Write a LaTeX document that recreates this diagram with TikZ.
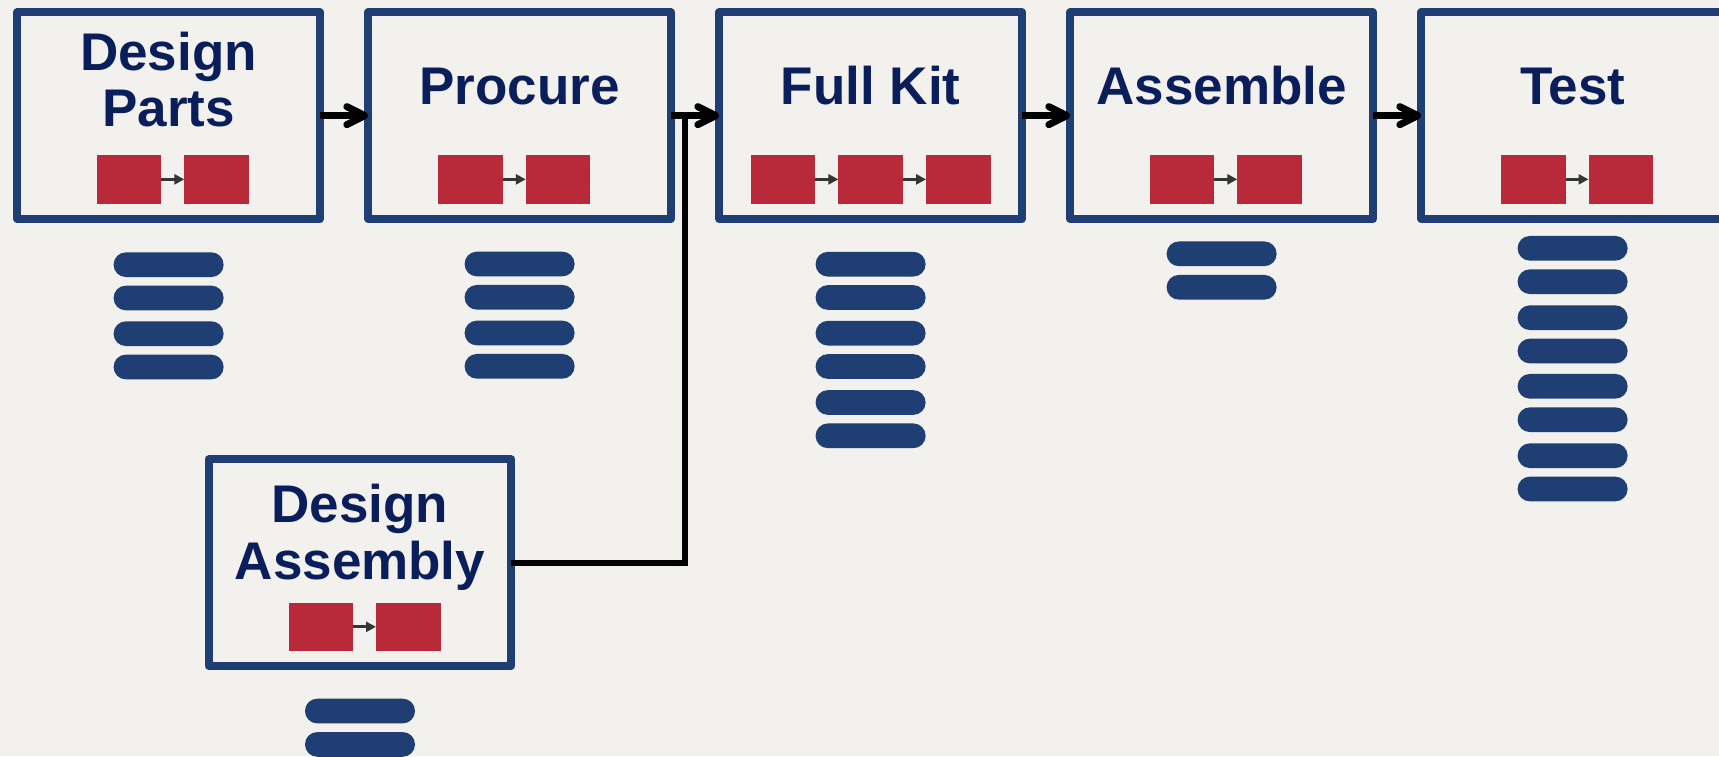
\documentclass[tikz,border=0pt]{standalone}
\usepackage{fontspec}
\setmainfont{Liberation Sans}
\usetikzlibrary{arrows.meta}
\definecolor{bg}{HTML}{F2F1ED}
\definecolor{frame}{HTML}{1F3E73}
\definecolor{ink}{HTML}{0A1E5C}
\definecolor{brick}{HTML}{B82A3A}
\definecolor{stub}{HTML}{353535}
\tikzset{
  stage/.style={draw=frame, line width=4pt, line join=round, minimum width=151.3pt,
    minimum height=103.35pt, inner sep=0pt, outer sep=0pt},
  lbl/.style={font=\bfseries\fontsize{26.5}{28.35}\selectfont, text=ink, inner sep=0pt, anchor=base},
  task/.style={fill=brick, minimum width=32.25pt, minimum height=24.35pt, inner sep=0pt, outer sep=0pt},
  link/.style={draw=stub, line width=1.5pt, -{Triangle[length=5pt,width=5pt]}},
  flow/.style={draw=black, line width=3.5pt, -{Straight Barb[length=9pt,width=9pt,round]}},
  feed/.style={draw=black, line width=3pt},
  bar/.style={fill=frame, minimum width=55pt, minimum height=12.35pt, rounded corners=6.1pt, inner sep=0pt}
}
\begin{document}
\begin{tikzpicture}[x=0.5pt,y=-0.5pt]
  \fill[bg] (0,0) rectangle (1719,756);
  \useasboundingbox (0,0) rectangle (1719,756);

  % stage frames
  \node[stage] (dp) at (168.6,115.65) {};
  \node[stage] (pr) at (519.6,115.65) {};
  \node[stage] (fk) at (870.6,115.65) {};
  \node[stage] (as) at (1221.6,115.65) {};
  \node[stage] (ts) at (1572.6,115.65) {};
  \node[stage] (da) at (360,562.65) {};

  % stage titles
  \node[lbl] (dpt1) at (168.6,70) {Design};
  \node[lbl] (dpt2) at (168.6,126.7) {Parts};
  \node[lbl] (prt) at (519.6,104) {Procure};
  \node[lbl] (fkt) at (870.6,104) {Full Kit};
  \node[lbl] (ast) at (1221.6,104) {Assemble};
  \node[lbl] (tst) at (1572.6,104) {Test};
  \node[lbl] (dat1) at (360,522.7) {Design};
  \node[lbl] (dat2) at (360,579.3) {Assembly};

  % task chains inside each stage
  \node[task] (dp1) at (129.05,179.35) {};
  \node[task] (dp2) at (216.55,179.35) {};
  \draw[link] (dp1.east) -- (dp2.west);
  \node[task] (pr1) at (470.55,179.35) {};
  \node[task] (pr2) at (558.05,179.35) {};
  \draw[link] (pr1.east) -- (pr2.west);
  \node[task] (fk1) at (782.9,179.35) {};
  \node[task] (fk2) at (870.6,179.35) {};
  \node[task] (fk3) at (958.3,179.35) {};
  \draw[link] (fk1.east) -- (fk2.west);
  \draw[link] (fk2.east) -- (fk3.west);
  \node[task] (as1) at (1182.05,179.35) {};
  \node[task] (as2) at (1269.55,179.35) {};
  \draw[link] (as1.east) -- (as2.west);
  \node[task] (ts1) at (1533.25,179.35) {};
  \node[task] (ts2) at (1620.75,179.35) {};
  \draw[link] (ts1.east) -- (ts2.west);
  \node[task] (da1) at (320.75,626.85) {};
  \node[task] (da2) at (408.25,626.85) {};
  \draw[link] (da1.east) -- (da2.west);

  % resource bars under each stage
  \foreach \y [count=\i] in {264.7,298,333.7,367}
    \node[bar] (dpbar\i) at (168.6,\y) {};
  \foreach \y [count=\i] in {264,297.3,333,366.3}
    \node[bar] (prbar\i) at (519.6,\y) {};
  \foreach \y [count=\i] in {264.2,297.5,333.2,366.5,402.5,435.8}
    \node[bar] (fkbar\i) at (870.6,\y) {};
  \foreach \y [count=\i] in {253.8,287.3}
    \node[bar] (asbar\i) at (1221.6,\y) {};
  \foreach \y [count=\i] in {248.3,281.7,317.7,351,386.3,419.7,455.7,489}
    \node[bar] (tsbar\i) at (1572.6,\y) {};
  \foreach \y [count=\i] in {711,744.4}
    \node[bar] (dabar\i) at (360,\y) {};

  % flow between stages
  \draw[flow] (dp.east) -- (pr.west);
  \draw[flow] (pr.east) -- (fk.west);
  \draw[flow] (fk.east) -- (as.west);
  \draw[flow] (as.east) -- (ts.west);

  % design assembly feeds into the full kit
  \coordinate (tee) at (684.5,115.65);
  \draw[feed] (da.east) -| (tee);
\end{tikzpicture}
\end{document}
